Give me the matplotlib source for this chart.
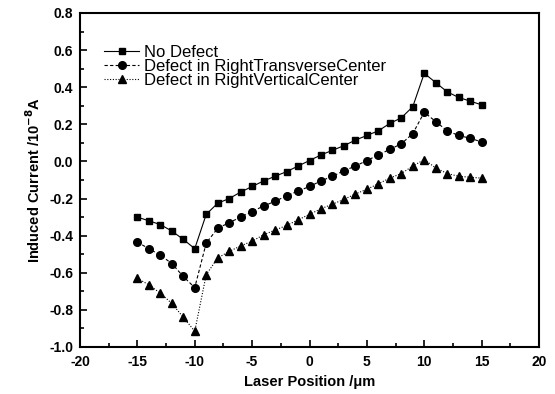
import numpy as np
import matplotlib.pyplot as plt
from matplotlib.ticker import MultipleLocator

plt.rcParams['font.family'] = ['Liberation Sans', 'DejaVu Sans']
plt.rcParams['axes.unicode_minus'] = False

# laser position, um
pos = list(range(-15, 16))

# induced current, 1e-8 A
no_defect = [-0.30, -0.32, -0.34, -0.375, -0.42, -0.47, -0.285, -0.225, -0.20, -0.165, -0.135,
             -0.105, -0.08, -0.055, -0.025, 0.005, 0.035, 0.06, 0.085, 0.115, 0.14, 0.165, 0.205,
             0.235, 0.295, 0.475, 0.425, 0.375, 0.345, 0.325, 0.305]
transverse = [-0.435, -0.47, -0.505, -0.55, -0.62, -0.68, -0.44, -0.36, -0.33, -0.30, -0.27,
              -0.24, -0.215, -0.185, -0.16, -0.135, -0.105, -0.08, -0.05, -0.025, 0.005, 0.035,
              0.065, 0.095, 0.15, 0.265, 0.215, 0.165, 0.14, 0.125, 0.105]
vertical = [-0.63, -0.665, -0.71, -0.765, -0.84, -0.915, -0.61, -0.52, -0.485, -0.455, -0.43,
            -0.395, -0.37, -0.345, -0.315, -0.285, -0.255, -0.23, -0.205, -0.175, -0.15, -0.12,
            -0.09, -0.065, -0.025, 0.01, -0.035, -0.065, -0.08, -0.085, -0.09]

fig = plt.figure(figsize=(5.55, 3.94), dpi=100)
ax = fig.add_axes([80 / 555, 1 - 347 / 394, 459 / 555, 334 / 394])

ax.plot(pos, no_defect, color='black', linewidth=0.8, linestyle='-',
        marker='s', markersize=4.8, label='No Defect')
ax.plot(pos, transverse, color='black', linewidth=0.8, linestyle=(0, (3, 2)),
        marker='o', markersize=5.5, label='Defect in RightTransverseCenter')
ax.plot(pos, vertical, color='black', linewidth=0.8, linestyle=(0, (1, 1.5)),
        marker='^', markersize=6, label='Defect in RightVerticalCenter')

ax.set_xlim(-20, 20)
ax.set_ylim(-1.0, 0.8)
ax.xaxis.set_major_locator(MultipleLocator(5))
ax.xaxis.set_minor_locator(MultipleLocator(2.5))
ax.yaxis.set_major_locator(MultipleLocator(0.2))
ax.yaxis.set_minor_locator(MultipleLocator(0.1))
ax.yaxis.set_major_formatter(plt.FuncFormatter(lambda v, p: f'{v:.1f}'))

ax.tick_params(which='both', direction='in', top=False, right=False, width=1.2)
ax.tick_params(which='major', length=5, labelsize=10)
ax.tick_params(which='minor', length=3)
ax.tick_params(axis='x', pad=6)
ax.tick_params(axis='y', pad=5)
for lab in ax.get_xticklabels() + ax.get_yticklabels():
    lab.set_fontweight('bold')
for s in ax.spines.values():
    s.set_linewidth(1.5)

ax.set_xlabel('Laser Position /μm', fontsize=10.5, fontweight='bold', labelpad=4)
ax.set_ylabel('Induced Current /10$^{\\mathbf{-8}}$A', fontsize=10.5, fontweight='bold', labelpad=4)

ax.legend(loc='upper left', bbox_to_anchor=(104 / 555, 1 - 45 / 394),
          bbox_transform=fig.transFigure, frameon=False, fontsize=12,
          handlelength=2.1, handletextpad=0.3, labelspacing=-0.05,
          borderpad=0, borderaxespad=0)

fig.savefig('out.png', dpi=100)
